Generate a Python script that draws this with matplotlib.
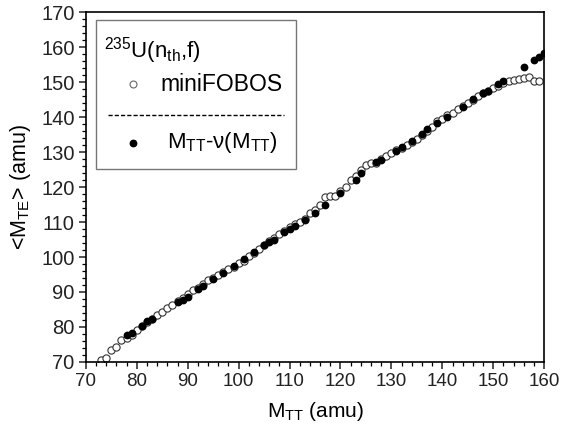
import matplotlib
matplotlib.use("Agg")
import matplotlib.pyplot as plt
from matplotlib.patches import Rectangle
from matplotlib.lines import Line2D
from matplotlib.ticker import MultipleLocator

plt.rcParams['font.family'] = ['Liberation Sans', 'DejaVu Sans']
plt.rcParams['mathtext.fontset'] = 'custom'
plt.rcParams['mathtext.rm'] = 'Liberation Sans'
plt.rcParams['mathtext.it'] = 'Liberation Sans:italic'

# miniFOBOS (open circles)
mini_m = [73, 74, 75, 76, 77, 78, 79, 80, 81, 82, 83, 84, 85, 86, 87, 88, 89, 90,
          91, 92, 93, 94, 95, 96, 97, 98, 99, 100, 101, 102, 103, 104, 105, 106,
          107, 108, 109, 110, 111, 112, 113, 114, 115, 116, 117, 118, 119, 120,
          121, 122, 123, 124, 125, 126, 127, 128, 129, 130, 131, 132, 133, 134,
          135, 136, 137, 138, 139, 140, 141, 142, 143, 144, 145, 146, 147, 148,
          149, 150, 151, 152, 153, 154, 155, 156, 157, 158, 159]
mini_v = [70.7, 71.2, 73.4, 74.4, 76.2, 76.8, 77.8, 79.1, 80.2, 81.5, 82.3, 83.4,
          84.4, 85.3, 86.3, 87.3, 88.3, 89.3, 90.5, 91.2, 92.3, 93.3, 94.0, 94.8,
          95.8, 96.5, 97.2, 98.2, 99.0, 100.2, 101.2, 102.4, 103.5, 104.5, 105.3,
          106.5, 107.4, 108.5, 109.3, 110.1, 111.0, 112.5, 113.5, 115.0, 117.2,
          117.4, 117.4, 119.0, 120.1, 122.0, 123.2, 124.8, 126.2, 126.8, 127.0,
          128.0, 128.8, 129.6, 130.5, 131.3, 132.1, 133.0, 133.6, 134.8, 136.0,
          137.2, 138.8, 139.4, 140.5, 141.3, 142.2, 143.2, 144.1, 145.0, 146.0,
          146.8, 147.6, 148.2, 149.0, 149.8, 150.3, 150.6, 150.8, 151.2, 151.6,
          150.4, 150.3]

# M_TT - nu(M_TT) (filled circles)
corr_m = [78, 79, 81, 82, 83, 88, 89, 90, 92, 93, 95, 97, 99, 101, 103, 105, 106,
          107, 109, 110, 111, 113, 115, 117, 120, 123, 124, 127, 128, 131, 132,
          134, 136, 137, 139, 141, 144, 146, 148, 149, 151, 152, 156, 158, 159, 160]
corr_v = [77.7, 78.4, 80.3, 81.6, 82.4, 87.0, 87.8, 88.7, 90.8, 91.7, 93.6, 95.4,
          97.4, 99.3, 101.5, 103.4, 104.3, 105.0, 107.2, 107.9, 108.8, 110.6,
          112.5, 115.0, 118.4, 122.0, 124.1, 127.2, 127.7, 130.4, 131.5, 133.2,
          135.1, 136.5, 138.2, 139.9, 142.9, 145.1, 146.8, 147.5, 149.6, 150.4,
          154.4, 156.3, 157.2, 158.2]

fig = plt.figure(figsize=(5.61, 4.34), dpi=100)
ax = fig.add_axes([0.153, 0.166, 0.817, 0.806])

ax.plot(mini_m, mini_v, 'o', ms=5.2, mfc='white', mec='#333333', mew=0.8, ls='none', zorder=2)
ax.plot(corr_m, corr_v, 'o', ms=4.6, mfc='black', mec='black', ls='none', zorder=3)

ax.set_xlim(70, 160)
ax.set_ylim(70, 170)
ax.xaxis.set_major_locator(MultipleLocator(10))
ax.xaxis.set_minor_locator(MultipleLocator(2))
ax.yaxis.set_major_locator(MultipleLocator(10))
ax.yaxis.set_minor_locator(MultipleLocator(2))
ax.tick_params(which='major', direction='out', length=5, width=1.1, labelsize=14.5,
               top=False, right=False, colors='#222222', pad=3)
ax.tick_params(axis='x', which='major', labelsize=13.5)
ax.tick_params(which='minor', direction='out', length=3, width=0.9, top=False, right=False)
for s in ax.spines.values():
    s.set_linewidth(1.2)

ax.set_xlabel('M$_{\\mathrm{TT}}$ (amu)', fontsize=15, labelpad=7)
ax.set_ylabel('<M$_{\\mathrm{TE}}$> (amu)', fontsize=15.5, labelpad=6)

# legend box
ax.add_patch(Rectangle((0.022, 0.551), 0.437, 0.426, transform=ax.transAxes,
                       fill=False, ec='#777777', lw=1.0, zorder=5))
ax.text(0.04, 0.89, '$^{235}$U(n$_{\\mathrm{th}}$,f)', transform=ax.transAxes,
        fontsize=16, va='center', ha='left', zorder=6)
ax.add_line(Line2D([0.102], [0.794], marker='o', ms=5.0, mfc='white', mec='#666666',
                   mew=0.8, transform=ax.transAxes, zorder=6))
ax.text(0.163, 0.794, 'miniFOBOS', transform=ax.transAxes, fontsize=16.5,
        va='center', ha='left', zorder=6)
ax.add_line(Line2D([0.048, 0.433], [0.706, 0.706], ls=(0, (3, 1.5)), lw=1.0,
                   color='black', transform=ax.transAxes, zorder=6))
ax.add_line(Line2D([0.102], [0.626], marker='o', ms=4.6, mfc='black', mec='black',
                   transform=ax.transAxes, zorder=6))
ax.text(0.176, 0.626, 'M$_{\\mathrm{TT}}$-ν(M$_{\\mathrm{TT}}$)', transform=ax.transAxes,
        fontsize=16, va='center', ha='left', zorder=6)

fig.savefig('out.png', dpi=100)
